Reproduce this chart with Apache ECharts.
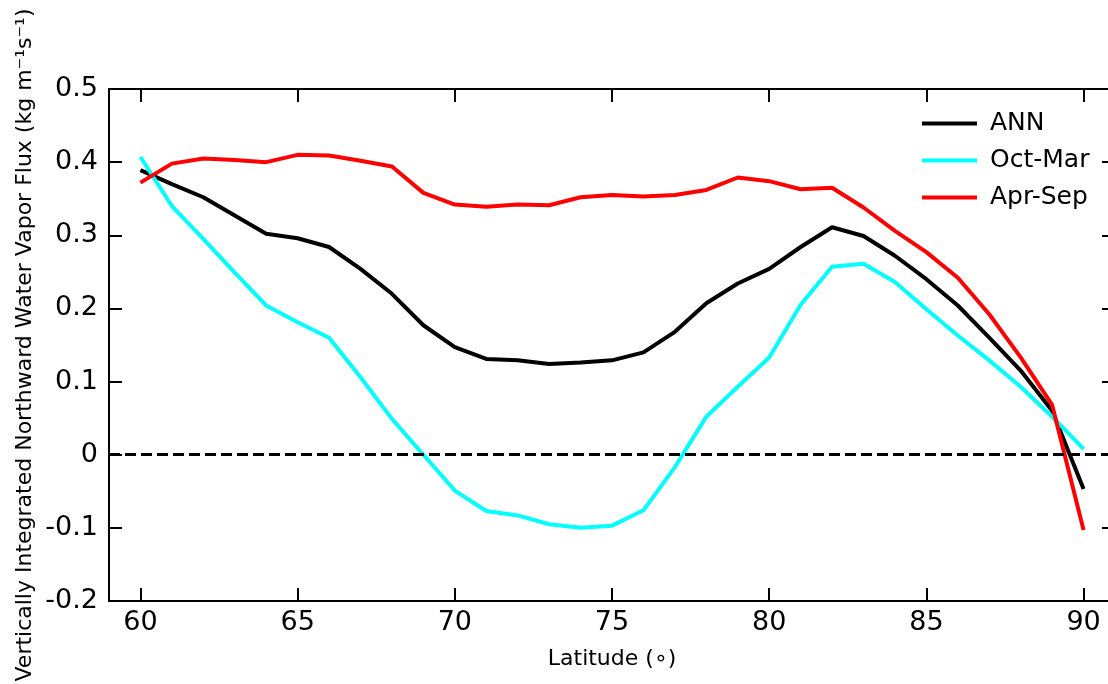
<!DOCTYPE html>
<html>
<head>
<meta charset="utf-8">
<script src="https://cdn.jsdelivr.net/npm/echarts@6/dist/echarts.min.js"></script>
<style>
  html, body { margin: 0; padding: 0; background: #fff; }
  #chart { width: 1108px; height: 684px; }
</style>
</head>
<body>
<div id="chart"></div>
<script>
// latitude (deg N), one value per degree
const latitude = [60, 61, 62, 63, 64, 65, 66, 67, 68, 69, 70, 71, 72, 73, 74, 75,
  76, 77, 78, 79, 80, 81, 82, 83, 84, 85, 86, 87, 88, 89, 90];
const ann = [0.389, 0.370, 0.352, 0.327, 0.302, 0.296, 0.284, 0.254, 0.220, 0.177, 0.147,
  0.131, 0.129, 0.124, 0.126, 0.129, 0.140, 0.168, 0.207, 0.234, 0.254,
  0.284, 0.311, 0.299, 0.272, 0.240, 0.204, 0.160, 0.115, 0.060, -0.047];
const octMar = [0.407, 0.340, 0.295, 0.249, 0.204, 0.181, 0.160, 0.106, 0.049, 0.000, -0.049,
  -0.077, -0.083, -0.095, -0.100, -0.097, -0.076, -0.017, 0.052, 0.093, 0.133,
  0.205, 0.257, 0.261, 0.236, 0.199, 0.163, 0.129, 0.093, 0.052, 0.008];
const aprSep = [0.372, 0.398, 0.405, 0.403, 0.400, 0.410, 0.409, 0.402, 0.394, 0.358, 0.342,
  0.339, 0.342, 0.341, 0.352, 0.355, 0.353, 0.355, 0.362, 0.379, 0.374,
  0.363, 0.365, 0.338, 0.306, 0.277, 0.242, 0.192, 0.133, 0.068, -0.103];
const xTicks = [60, 65, 70, 75, 80, 85, 90];

const font = "DejaVu Sans";
const chart = echarts.init(document.getElementById("chart"));

function pairs(ys) {
  return latitude.map((x, i) => [x, ys[i]]);
}

const axisLine = { show: true, onZero: false, lineStyle: { color: "#000", width: 2 } };
const tick = { show: true, inside: true, length: 13, lineStyle: { color: "#000", width: 2 } };

chart.setOption({
  backgroundColor: "#fff",
  animation: false,
  // right spine sits just past the canvas edge, only its ticks show
  grid: { left: 109, top: 89, width: 1006, height: 512, outerBoundsMode: "none", containLabel: false },
  legend: {
    orient: "vertical",
    left: 917,
    top: 106,
    icon: "rect",
    itemWidth: 55,
    itemHeight: 4,
    itemGap: 12,
    textStyle: { fontFamily: font, fontSize: 25, lineHeight: 25, color: "#000", padding: [0, 0, 0, 8] },
    data: ["ANN", "Oct-Mar", "Apr-Sep"]
  },
  xAxis: [
    {
      type: "value",
      position: "bottom",
      min: 59,
      max: 91,
      name: "Latitude (∘)",
      nameLocation: "middle",
      nameGap: 47,
      nameMoveOverlap: false,
      nameTextStyle: { fontFamily: font, fontSize: 22, color: "#000" },
      axisLine: axisLine,
      axisTick: Object.assign({ customValues: xTicks }, tick),
      axisLabel: { customValues: xTicks, fontFamily: font, fontSize: 27, color: "#000", margin: 8 },
      splitLine: { show: false }
    },
    {
      type: "value",
      position: "top",
      min: 59,
      max: 91,
      axisLine: axisLine,
      axisTick: Object.assign({ customValues: xTicks }, tick),
      axisLabel: { show: false },
      splitLine: { show: false }
    }
  ],
  yAxis: [
    {
      type: "value",
      position: "left",
      min: -0.2,
      max: 0.5,
      interval: 0.1,
      name: "Vertically Integrated Northward Water Vapor Flux (kg m⁻¹s⁻¹)",
      nameLocation: "middle",
      nameGap: 73,
      nameMoveOverlap: false,
      nameTextStyle: { fontFamily: font, fontSize: 22, color: "#000" },
      axisLine: axisLine,
      axisTick: tick,
      axisLabel: { fontFamily: font, fontSize: 27, color: "#000", margin: 11 },
      splitLine: { show: false }
    },
    {
      type: "value",
      position: "right",
      min: -0.2,
      max: 0.5,
      interval: 0.1,
      axisLine: axisLine,
      axisTick: tick,
      axisLabel: { show: false },
      splitLine: { show: false }
    }
  ],
  series: [
    {
      name: "ANN",
      type: "line",
      color: "#000000",
      showSymbol: false,
      lineStyle: { width: 4, color: "#000000" },
      data: pairs(ann),
      markLine: {
        silent: true,
        symbol: "none",
        label: { show: false },
        lineStyle: { color: "#000", width: 3, type: [11, 5] },
        data: [{ yAxis: 0 }]
      }
    },
    {
      name: "Oct-Mar",
      type: "line",
      color: "#00ffff",
      showSymbol: false,
      lineStyle: { width: 4, color: "#00ffff" },
      data: pairs(octMar)
    },
    {
      name: "Apr-Sep",
      type: "line",
      color: "#ff0000",
      showSymbol: false,
      lineStyle: { width: 4, color: "#ff0000" },
      data: pairs(aprSep)
    }
  ]
});
</script>
</body>
</html>
